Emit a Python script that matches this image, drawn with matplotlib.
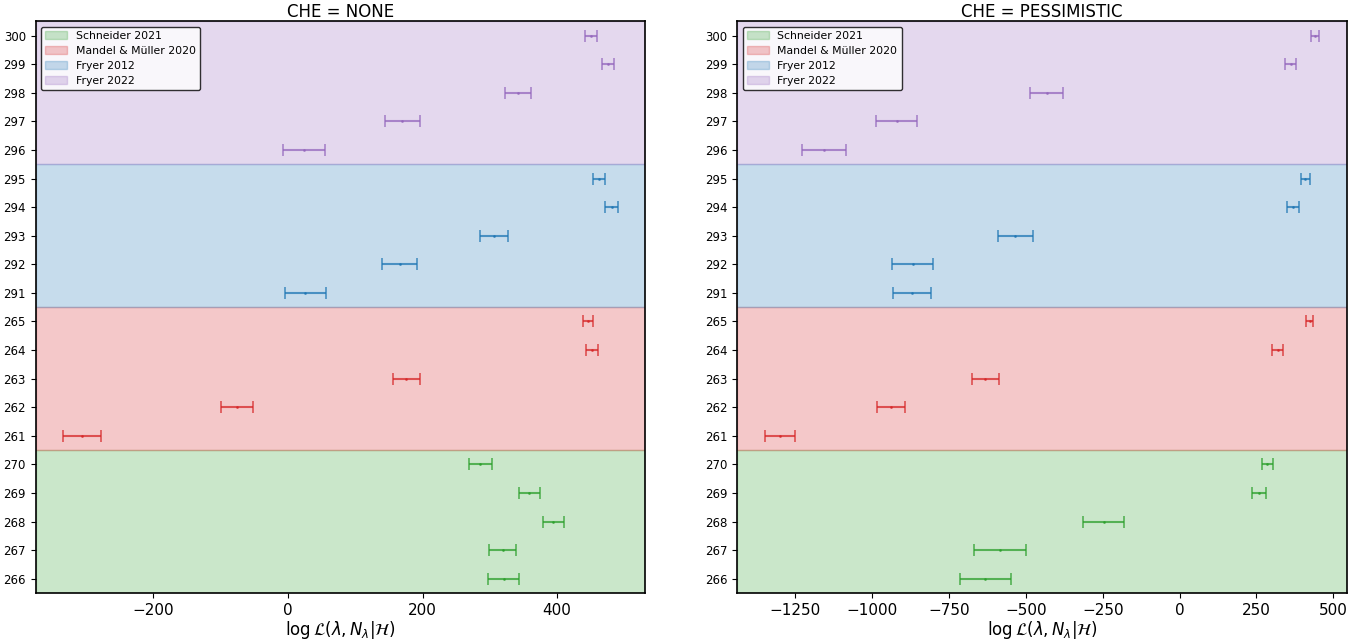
import matplotlib
matplotlib.use("Agg")
import matplotlib.pyplot as plt
import numpy as np

# categories, bottom to top
models = ["266", "267", "268", "269", "270",
          "261", "262", "263", "264", "265",
          "291", "292", "293", "294", "295",
          "296", "297", "298", "299", "300"]
groups = ["Schneider 2021", "Mandel & Müller 2020", "Fryer 2012", "Fryer 2022"]
group_colors = ["tab:green", "tab:red", "tab:blue", "tab:purple"]

# CHE = NONE
none_mean = [321, 319, 394, 359, 286,
             -306, -76, 176, 452, 446,
             26, 166, 306, 481, 462,
             24, 170, 342, 476, 451]
none_err = [23, 20, 15.6, 16, 17,
            28, 24, 19.7, 8.5, 7.5,
            30, 26, 21, 9, 9,
            31, 26, 19.7, 9, 9]

# CHE = PESSIMISTIC
pess_mean = [-633, -585, -247, 257, 285,
             -1300, -939, -632, 319, 423,
             -871, -868, -534, 368, 409,
             -1156, -921, -433, 361, 441]
pess_err = [83, 84, 67, 22.6, 17.6,
            48.6, 46.5, 43.7, 17.6, 12,
            60.6, 67, 56, 19, 14.8,
            71, 67.7, 53.6, 18, 13.4]

titles = ["CHE = NONE", "CHE = PESSIMISTIC"]

fig, axes = plt.subplots(1, 2, figsize=(13.71, 6.44), dpi=100)
fig.subplots_adjust(left=0.026, right=0.9825, top=0.967, bottom=0.079, wspace=0.151)

for ax, means, errs, title in zip(axes, [none_mean, pess_mean], [none_err, pess_err], titles):
    y = np.arange(len(models))
    handles = []
    for g, (gname, col) in enumerate(zip(groups, group_colors)):
        lo, hi = g * 5 - 0.5, g * 5 + 4.5
        h = ax.axhspan(lo, hi, color=col, alpha=0.25, label=gname)
        handles.append(h)
        idx = slice(g * 5, g * 5 + 5)
        ax.errorbar(np.array(means[idx]), y[idx], xerr=np.array(errs[idx]),
                    fmt='.', color=col, markersize=2, capsize=4, elinewidth=1.5,
                    capthick=1.2, alpha=0.75)
    ax.set_yticks(y)
    ax.set_yticklabels(models, fontsize=8.5)
    ax.set_ylim(-0.5, len(models) - 0.5)
    ax.tick_params(axis='x', labelsize=11)
    ax.set_xlabel(r"$\log\mathcal{L}(\lambda, N_\lambda|\mathcal{H})$", fontsize=12, labelpad=1)
    ax.set_title(title, fontsize=12, pad=2)
    ax.legend(handles=handles, loc='upper left', fontsize=7.8, framealpha=0.8,
              edgecolor='black', labelspacing=0.45, borderpad=0.4)
    for s in ax.spines.values():
        s.set_linewidth(1.2)

fig.savefig("out.png", dpi=100)
